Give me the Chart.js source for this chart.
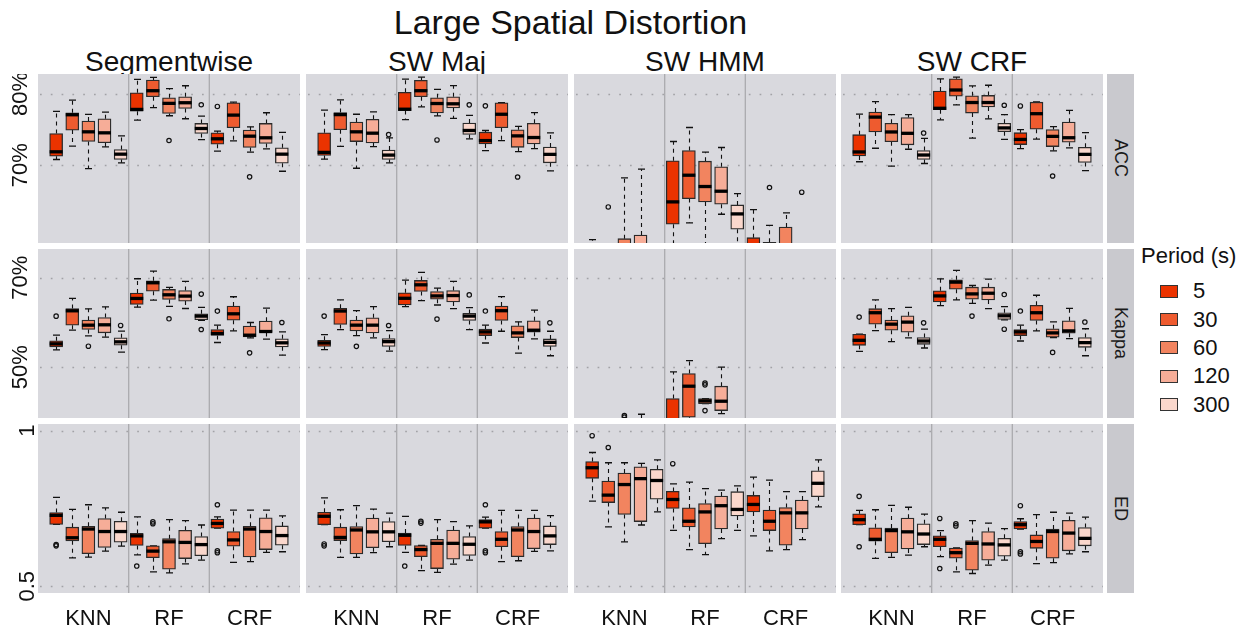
<!DOCTYPE html>
<html>
<head>
<meta charset="utf-8">
<script src="https://cdn.jsdelivr.net/npm/chart.js@4.4.1/dist/chart.umd.min.js"></script>
<style>
  body { margin: 0; background: #fff; width: 1247px; height: 628px; overflow: hidden; position: relative;
         font-family: "Liberation Sans", Arial, Helvetica, sans-serif; color: #111; }
  canvas { position: absolute; }
  .txt { position: absolute; white-space: nowrap; }
  .strip { position: absolute; background: #c9c9ce; display: flex; align-items: center; justify-content: center;
           writing-mode: vertical-rl; font-size: 18px; color: #1a1a1a; }
  .key { position: absolute; width: 16px; height: 11px; border: 1px solid #333; }
</style>
</head>
<body>
<script>
// ---- categories ----
const periods = ['5', '30', '60', '120', '300'];
const methods = ['KNN', 'RF', 'CRF'];
const columns = ['Segmentwise', 'SW Maj', 'SW HMM', 'SW CRF'];
const metrics = ['ACC', 'Kappa', 'ED'];
const periodColors = ['#eb3300', '#ee5b2f', '#f2845f', '#f6ad98', '#fad7cc'];

// tick values per metric row
const accTicks = [70, 80];
const kappaTicks = [50, 70];
const edTicks = [0.5, 1];

// ---- box stats: [min, q1, median, q3, max], order KNN(5..300), RF(5..300), CRF(5..300) ----
const accSegmentwise = [
  [70.8, 71.27, 71.88, 74.46, 77.56], [72.68, 74.93, 77.09, 77.37, 79.15], [69.53, 73.33, 74.69, 76.2, 77.14], [72.58, 73.15, 74.55, 76.53, 77.46], [70.33, 70.8, 71.55, 72.21, 74.13],
  [76.34, 77.6, 77.84, 80.19, 82.07], [78.08, 79.62, 80.47, 81.97, 82.35], [76.95, 77.28, 78.69, 79.48, 80.75], [76.53, 77.98, 78.78, 79.62, 81.17], [73.6, 74.46, 75.16, 75.87, 76.9],
  [71.97, 72.96, 73.71, 74.55, 74.79], [73.43, 75.26, 77.04, 78.78, 78.87], [71.83, 72.49, 74.08, 74.93, 75.4], [72.3, 73.05, 73.85, 75.87, 77.37], [69.15, 70.28, 71.55, 72.44, 74.6]
];
const accSegmentwiseOut = [[7, 73.47], [9, 78.5], [10, 78.26], [12, 68.36]];

const accSwMaj = [
  [70.85, 71.37, 71.8, 74.55, 77.73], [72.65, 74.98, 77.11, 77.39, 79.19], [69.57, 73.32, 74.69, 76.07, 77.16], [72.61, 73.13, 74.5, 76.45, 77.49], [70.33, 70.81, 71.42, 72.13, 73.84],
  [76.4, 77.68, 77.87, 80.24, 82.09], [78.2, 79.62, 80.47, 81.94, 82.37], [76.92, 77.35, 78.67, 79.48, 80.66], [76.59, 78.06, 78.63, 79.62, 81.18], [73.7, 74.31, 74.88, 75.92, 77.01],
  [72.04, 72.99, 73.46, 74.64, 74.88], [73.46, 75.26, 77.16, 78.77, 78.8], [71.9, 72.51, 74.12, 74.98, 75.45], [72.32, 72.99, 73.89, 75.88, 77.39], [69.19, 70.33, 71.52, 72.56, 74.55]
];
const accSwMajOut = [[4, 74.31], [7, 73.55], [9, 78.48], [10, 78.34], [12, 68.34]];

const accSwHmm = [
  [45.0, 50.0, 53.0, 56.0, 59.53], [44.0, 48.0, 51.0, 54.0, 58.0], [46.0, 50.0, 54.0, 59.67, 68.22], [45.0, 51.0, 55.0, 60.19, 69.44], [42.0, 46.0, 49.0, 52.0, 57.0],
  [56.0, 61.69, 64.84, 70.61, 73.33], [61.88, 65.3, 68.59, 72.07, 75.3], [57.0, 64.84, 67.0, 70.56, 71.83], [63.1, 64.51, 66.34, 69.77, 72.49], [56.0, 60.99, 63.15, 64.41, 66.01],
  [50.0, 54.0, 57.0, 59.81, 63.76], [48.0, 53.0, 56.0, 59.15, 61.55], [50.0, 55.0, 58.5, 61.31, 63.29], [47.0, 51.0, 54.0, 57.0, 58.5], [45.0, 49.0, 52.0, 55.0, 58.0]
];
const accSwHmmOut = [[1, 64.13], [11, 66.86], [13, 66.2]];

const accSwCrf = [
  [70.48, 71.29, 71.86, 74.29, 77.19], [72.38, 74.67, 76.76, 77.48, 78.95], [69.86, 73.29, 74.67, 75.9, 77.1], [72.24, 72.86, 74.48, 76.71, 77.1], [70.24, 70.81, 71.43, 72.05, 73.76],
  [76.38, 77.81, 78.0, 80.43, 82.14], [78.48, 79.71, 80.57, 82.14, 82.38], [73.81, 77.33, 78.81, 79.76, 81.14], [76.52, 78.19, 78.81, 79.81, 81.24], [73.62, 74.71, 75.24, 75.9, 77.1],
  [72.33, 72.9, 73.62, 74.57, 75.0], [73.67, 75.05, 77.24, 78.86, 78.9], [72.0, 72.62, 74.05, 75.0, 75.43], [72.43, 73.24, 73.86, 76.05, 77.71], [69.24, 70.38, 71.52, 72.52, 74.57]
];
const accSwCrfOut = [[4, 74.52], [9, 78.43], [10, 78.33], [12, 68.48]];

const kappaSegmentwise = [
  [53.88, 54.55, 55.22, 55.9, 57.16], [58.28, 59.4, 62.61, 63.13, 65.37], [57.01, 58.43, 59.4, 60.52, 63.06], [56.72, 57.69, 59.48, 61.12, 63.51], [53.36, 54.92, 55.67, 56.57, 58.06],
  [63.43, 64.03, 65.37, 66.57, 69.78], [65.0, 67.01, 68.88, 69.33, 71.49], [63.58, 65.15, 66.19, 67.39, 67.84], [63.13, 64.78, 65.9, 67.16, 69.18], [60.5, 60.6, 61.42, 61.94, 63.36],
  [55.52, 57.09, 57.54, 58.43, 59.4], [58.13, 60.52, 61.94, 63.66, 65.75], [56.57, 56.79, 57.16, 59.18, 60.0], [56.27, 57.76, 57.98, 60.3, 63.21], [52.69, 54.55, 55.45, 56.34, 57.91]
];
const kappaSegmentwiseOut = [[0, 61.42], [2, 54.7], [4, 59.33], [7, 60.82], [9, 66.34], [9, 58.43], [10, 62.54], [12, 53.21], [14, 60.0]];

const kappaSwMaj = [
  [53.91, 54.66, 55.41, 56.01, 57.29], [58.42, 59.55, 62.56, 63.16, 65.04], [57.07, 58.12, 59.4, 60.53, 62.63], [56.54, 57.67, 59.4, 61.05, 63.53], [53.61, 54.66, 55.71, 56.39, 58.2],
  [63.53, 63.91, 65.41, 66.62, 69.47], [64.89, 66.92, 68.42, 69.4, 71.2], [63.91, 65.19, 65.94, 66.92, 67.67], [63.08, 64.59, 66.02, 67.14, 69.17], [58.42, 60.45, 61.43, 62.03, 63.31],
  [55.41, 57.07, 57.89, 58.5, 59.4], [58.04, 60.45, 62.63, 63.68, 65.79], [53.16, 56.62, 57.67, 59.25, 60.15], [56.32, 57.82, 58.27, 60.38, 62.78], [52.56, 54.66, 55.56, 56.32, 58.04]
];
const kappaSwMajOut = [[0, 61.43], [2, 54.66], [4, 59.32], [7, 60.75], [9, 66.17], [10, 62.56], [14, 59.92]];

const kappaSwHmm = [
  [20, 25, 28, 32, 36], [21, 26, 29, 33, 37], [20, 26, 30, 34, 37], [22, 27, 31, 35, 39.48], [20, 25, 28, 32, 36],
  [28, 33, 36, 42.98, 48.95], [33, 38.8, 45.75, 48.58, 51.49], [41.86, 41.86, 42.46, 42.98, 42.98], [39.63, 40.3, 42.39, 45.75, 50.0], [22, 27, 31, 34, 37],
  [22, 27, 30, 33, 37], [21, 26, 29, 32, 36], [20, 25, 28, 31, 35], [21, 26, 29, 32, 36], [23, 28, 31, 34, 38]
];
const kappaSwHmmOut = [[2, 39.2], [2, 38.85], [7, 46.45], [7, 46.05], [7, 40.3]];

const kappaSwCrf = [
  [53.53, 54.89, 56.01, 57.37, 57.4], [58.2, 59.62, 62.18, 63.08, 65.04], [55.71, 58.27, 59.62, 60.53, 63.08], [56.54, 57.82, 60.08, 61.5, 63.38], [54.29, 55.11, 55.86, 56.62, 58.5],
  [63.76, 64.59, 65.94, 67.07, 69.77], [65.04, 67.44, 69.02, 69.55, 71.65], [64.29, 65.19, 66.39, 67.89, 68.27], [63.08, 65.04, 66.54, 67.89, 69.7], [60.6, 60.68, 61.5, 62.18, 63.53],
  [55.86, 57.07, 57.89, 58.42, 59.4], [58.12, 60.45, 62.18, 63.83, 66.09], [56.6, 56.69, 57.67, 58.57, 60.15], [56.39, 57.59, 58.12, 60.38, 63.16], [52.56, 54.44, 55.49, 56.62, 58.6]
];
const kappaSwCrfOut = [[0, 61.2], [4, 59.92], [7, 61.43], [9, 66.24], [9, 58.5], [10, 62.56], [12, 53.31], [14, 60.1]];

const edSegmentwise = [
  [0.699, 0.699, 0.728, 0.737, 0.786], [0.591, 0.646, 0.656, 0.690, 0.747], [0.594, 0.605, 0.684, 0.693, 0.762], [0.613, 0.625, 0.676, 0.718, 0.752], [0.629, 0.642, 0.676, 0.709, 0.738],
  [0.601, 0.631, 0.662, 0.670, 0.723], [0.546, 0.592, 0.613, 0.630, 0.630], [0.543, 0.555, 0.643, 0.653, 0.714], [0.572, 0.589, 0.641, 0.680, 0.711], [0.584, 0.598, 0.634, 0.660, 0.697],
  [0.687, 0.687, 0.702, 0.716, 0.723], [0.577, 0.629, 0.649, 0.676, 0.745], [0.579, 0.594, 0.684, 0.693, 0.745], [0.609, 0.618, 0.676, 0.720, 0.745], [0.611, 0.632, 0.663, 0.694, 0.726]
];
const edSegmentwiseOut = [[0, 0.634], [0, 0.630], [5, 0.565], [6, 0.707], [6, 0.701], [10, 0.762], [10, 0.614], [10, 0.608]];

const edSwMaj = [
  [0.698, 0.698, 0.725, 0.738, 0.784], [0.593, 0.647, 0.657, 0.690, 0.746], [0.593, 0.604, 0.681, 0.692, 0.759], [0.608, 0.624, 0.675, 0.719, 0.748], [0.627, 0.643, 0.675, 0.708, 0.735],
  [0.609, 0.631, 0.664, 0.671, 0.725], [0.550, 0.595, 0.618, 0.631, 0.631], [0.545, 0.557, 0.638, 0.651, 0.714], [0.571, 0.587, 0.638, 0.681, 0.708], [0.584, 0.599, 0.635, 0.660, 0.694],
  [0.687, 0.687, 0.707, 0.714, 0.722], [0.579, 0.627, 0.651, 0.676, 0.744], [0.582, 0.595, 0.681, 0.692, 0.744], [0.612, 0.621, 0.676, 0.719, 0.744], [0.614, 0.634, 0.662, 0.694, 0.727]
];
const edSwMajOut = [[0, 0.636], [0, 0.630], [5, 0.565], [6, 0.709], [6, 0.703], [10, 0.762], [10, 0.614], [10, 0.608]];

const edSwHmm = [
  [0.774, 0.847, 0.881, 0.901, 0.930], [0.691, 0.769, 0.793, 0.838, 0.897], [0.643, 0.731, 0.827, 0.864, 0.897], [0.697, 0.708, 0.846, 0.884, 0.895], [0.739, 0.780, 0.840, 0.876, 0.906],
  [0.680, 0.750, 0.779, 0.805, 0.829], [0.618, 0.691, 0.709, 0.752, 0.835], [0.602, 0.637, 0.739, 0.766, 0.814], [0.653, 0.684, 0.759, 0.790, 0.809], [0.680, 0.726, 0.747, 0.804, 0.823],
  [0.662, 0.739, 0.763, 0.792, 0.851], [0.614, 0.679, 0.709, 0.745, 0.841], [0.618, 0.632, 0.736, 0.753, 0.804], [0.650, 0.684, 0.736, 0.777, 0.804], [0.755, 0.788, 0.831, 0.871, 0.906]
];
const edSwHmmOut = [[0, 0.984], [1, 0.946], [5, 0.894]];

const edSwCrf = [
  [0.698, 0.698, 0.714, 0.733, 0.744], [0.590, 0.645, 0.651, 0.688, 0.746], [0.593, 0.608, 0.679, 0.687, 0.760], [0.600, 0.620, 0.675, 0.719, 0.754], [0.627, 0.634, 0.668, 0.701, 0.732],
  [0.595, 0.627, 0.651, 0.662, 0.679], [0.546, 0.590, 0.608, 0.623, 0.623], [0.541, 0.552, 0.638, 0.647, 0.711], [0.568, 0.584, 0.636, 0.676, 0.703], [0.584, 0.597, 0.633, 0.654, 0.685],
  [0.684, 0.684, 0.698, 0.708, 0.717], [0.573, 0.622, 0.644, 0.665, 0.730], [0.576, 0.590, 0.676, 0.684, 0.738], [0.604, 0.614, 0.671, 0.712, 0.735], [0.611, 0.630, 0.654, 0.689, 0.722]
];
const edSwCrfOut = [[0, 0.789], [0, 0.627], [5, 0.718], [5, 0.557], [6, 0.701], [6, 0.694], [10, 0.759], [10, 0.611], [10, 0.604]];

// ---- layout ----
const FONT = '"Liberation Sans", Arial, Helvetica, sans-serif';
const colX = [38, 306, 574, 841];
const rowY = [74, 249, 424];
const PW = 262, PH = 169;
const rowTicks = [accTicks, kappaTicks, edTicks];
const rowLimits = [[59.06, 82.82], [38.64, 76.43], [0.4784, 1.0216]];
const panelStats = [
  [accSegmentwise, accSwMaj, accSwHmm, accSwCrf],
  [kappaSegmentwise, kappaSwMaj, kappaSwHmm, kappaSwCrf],
  [edSegmentwise, edSwMaj, edSwHmm, edSwCrf]
];
const panelOut = [
  [accSegmentwiseOut, accSwMajOut, accSwHmmOut, accSwCrfOut],
  [kappaSegmentwiseOut, kappaSwMajOut, kappaSwHmmOut, kappaSwCrfOut],
  [edSegmentwiseOut, edSwMajOut, edSwHmmOut, edSwCrfOut]
];
// dodged x position of each box
const boxX = i => Math.floor(i / 5) + 1 + ((i % 5) - 2) * 0.2;

const tickText = (r, v) => r < 2 ? v + '%' : String(v);

const boxFacet = {
  id: 'boxFacet',
  beforeDatasetsDraw(chart) {
    const { ctx, chartArea: a, scales: { x, y } } = chart;
    const r = chart.options.plugins.boxFacet.row;
    const stats = chart.data.datasets[0].stats;
    ctx.save();
    ctx.fillStyle = '#d9d9de';
    ctx.fillRect(a.left, a.top, a.width, a.height);
    ctx.beginPath();
    ctx.rect(a.left, a.top, a.width, a.height);
    ctx.clip();
    // dotted horizontal grid
    ctx.strokeStyle = '#a2a2a6';
    ctx.lineWidth = 1.7;
    ctx.setLineDash([1.7, 9.1]);
    rowTicks[r].forEach(v => {
      const py = Math.round(y.getPixelForValue(v)) + 0.5;
      ctx.beginPath(); ctx.moveTo(a.left + 2, py); ctx.lineTo(a.right, py); ctx.stroke();
    });
    // group separators
    ctx.setLineDash([]);
    ctx.strokeStyle = '#aaaaae';
    ctx.lineWidth = 1.3;
    [1.5, 2.5].forEach(v => {
      const px = x.getPixelForValue(v);
      ctx.beginPath(); ctx.moveTo(px, a.top); ctx.lineTo(px, a.bottom); ctx.stroke();
    });
    // whiskers + staples
    ctx.strokeStyle = '#111';
    ctx.lineWidth = 1.1;
    stats.forEach((s, i) => {
      const px = Math.round(x.getPixelForValue(boxX(i))) + 0.5;
      ctx.setLineDash([4, 4]);
      ctx.beginPath();
      ctx.moveTo(px, y.getPixelForValue(s[3])); ctx.lineTo(px, y.getPixelForValue(s[4]));
      ctx.moveTo(px, y.getPixelForValue(s[1])); ctx.lineTo(px, y.getPixelForValue(s[0]));
      ctx.stroke();
      ctx.setLineDash([]);
      ctx.lineWidth = 1.3;
      ctx.beginPath();
      [s[0], s[4]].forEach(v => {
        const py = y.getPixelForValue(v);
        ctx.moveTo(px - 3.5, py); ctx.lineTo(px + 3.5, py);
      });
      ctx.stroke();
      ctx.lineWidth = 1.1;
    });
    ctx.restore();
  },
  afterDatasetsDraw(chart) {
    const { ctx, chartArea: a, scales: { x, y } } = chart;
    const stats = chart.data.datasets[0].stats;
    ctx.save();
    ctx.beginPath();
    ctx.rect(a.left, a.top, a.width, a.height);
    ctx.clip();
    ctx.strokeStyle = '#000';
    ctx.lineWidth = 3.3;
    stats.forEach((s, i) => {
      const px = x.getPixelForValue(boxX(i));
      const py = y.getPixelForValue(s[2]);
      ctx.beginPath(); ctx.moveTo(px - 6.5, py); ctx.lineTo(px + 6.5, py); ctx.stroke();
    });
    ctx.restore();
  }
};

function zeroPad(s) {
  s.paddingTop = 0; s.paddingBottom = 0; s.paddingLeft = 0; s.paddingRight = 0;
}

function makePanel(r, c) {
  const stats = panelStats[r][c];
  const outs = panelOut[r][c];
  const left = c === 0 ? 0 : colX[c];
  const top = rowY[r];
  const w = c === 0 ? colX[0] + PW : PW;
  const h = r === 2 ? 628 - top : PH;
  const showX = r === 2, showY = c === 0;
  const cv = document.createElement('canvas');
  cv.width = w; cv.height = h;
  cv.style.left = left + 'px'; cv.style.top = top + 'px';
  cv.style.width = w + 'px'; cv.style.height = h + 'px';
  document.body.appendChild(cv);

  new Chart(cv, {
    type: 'bar',
    data: {
      datasets: [
        {
          type: 'bar',
          data: stats.map((s, i) => ({ x: boxX(i), y: [s[1], s[3]] })),
          stats: stats,
          backgroundColor: stats.map((_, i) => periodColors[i % 5]),
          borderColor: '#2a2a2a',
          borderWidth: 1.3,
          borderSkipped: false,
          barThickness: 13,
          clip: 0,
          order: 2
        },
        {
          type: 'scatter',
          data: outs.map(o => ({ x: boxX(o[0]), y: o[1] })),
          pointRadius: 2.2,
          pointBorderWidth: 1.2,
          pointBorderColor: '#111',
          pointBackgroundColor: 'rgba(0,0,0,0)',
          clip: 0,
          order: 1
        }
      ]
    },
    options: {
      responsive: false,
      animation: false,
      devicePixelRatio: 1,
      layout: { padding: 0, autoPadding: false },
      events: [],
      plugins: { legend: { display: false }, tooltip: { enabled: false }, boxFacet: { row: r } },
      scales: {
        x: {
          type: 'linear', min: 0.375, max: 3.625, offset: false,
          display: showX,
          grid: { display: false, drawTicks: false },
          border: { display: false },
          afterBuildTicks: s => { s.ticks = [1, 2, 3].map(v => ({ value: v })); },
          afterFit: s => { s.height = showX ? 35 : 0; zeroPad(s); },
          ticks: {
            callback: v => methods[v - 1],
            font: { size: 22, family: FONT },
            color: '#111',
            padding: 13,
            maxRotation: 0,
            autoSkip: false
          }
        },
        y: {
          type: 'linear', min: rowLimits[r][0], max: rowLimits[r][1], beginAtZero: false,
          display: showY,
          grid: { display: false, drawTicks: false },
          border: { display: false },
          afterBuildTicks: s => { s.ticks = rowTicks[r].map(v => ({ value: v })); },
          afterFit: s => { s.width = showY ? 38 : 0; zeroPad(s); },
          ticks: {
            callback: v => tickText(r, v),
            font: { size: 22, family: FONT },
            color: '#111',
            minRotation: 90,
            maxRotation: 90,
            crossAlign: 'center',
            padding: -5,
            autoSkip: false
          }
        }
      }
    },
    plugins: [boxFacet]
  });
}

function addText(txt, css) {
  const d = document.createElement('div');
  d.className = 'txt';
  d.textContent = txt;
  Object.assign(d.style, css);
  document.body.appendChild(d);
  return d;
}

// title and column headers
addText('Large Spatial Distortion', { left: '38px', width: '1065px', top: '2px', textAlign: 'center', fontSize: '34px', lineHeight: '40px' });
columns.forEach((t, c) => addText(t, { left: colX[c] + 'px', width: PW + 'px', top: '46px', textAlign: 'center', fontSize: '28px', lineHeight: '32px' }));

// panels
for (let r = 0; r < 3; r++) for (let c = 0; c < 4; c++) makePanel(r, c);

// row strips
metrics.forEach((m, r) => {
  const d = document.createElement('div');
  d.className = 'strip';
  d.textContent = m;
  Object.assign(d.style, { left: '1107px', top: rowY[r] + 'px', width: '27px', height: PH + 'px' });
  document.body.appendChild(d);
});

// legend
addText('Period (s)', { left: '1141px', top: '243px', fontSize: '22px', lineHeight: '26px' });
periods.forEach((p, i) => {
  const cy = 291.3 + i * 28.3;
  const k = document.createElement('div');
  k.className = 'key';
  Object.assign(k.style, { left: '1160px', top: (cy - 6.5) + 'px', background: periodColors[i] });
  document.body.appendChild(k);
  addText(p, { left: '1193px', top: (cy - 13) + 'px', fontSize: '22px', lineHeight: '26px' });
});
</script>
</body>
</html>
